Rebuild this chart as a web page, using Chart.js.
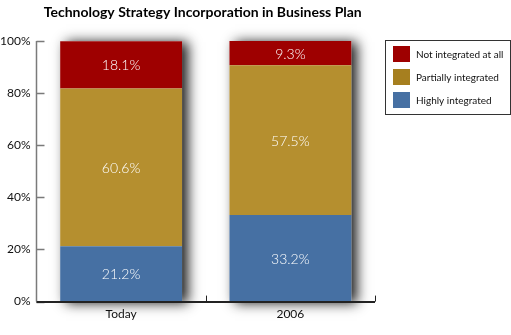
<!DOCTYPE html>
<html>
<head>
<meta charset="utf-8">
<script src="https://cdn.jsdelivr.net/npm/chart.js@4/dist/chart.umd.min.js"></script>
<style>
  html, body { margin: 0; padding: 0; background: #fff; }
  #wrap { width: 511px; height: 335px; position: relative; }
</style>
</head>
<body>
<div id="wrap"><canvas id="plan-chart"></canvas></div>
<script>
var categories = ['Today', '2006'];
var highlyIntegrated = [21.2, 33.2];
var partiallyIntegrated = [60.6, 57.5];
var notIntegrated = [18.1, 9.3];
var yTicks = [0, 20, 40, 60, 80, 100];
var chartTitle = 'Technology Strategy Incorporation in Business Plan';

var FONT = 'Lato, "Open Sans", sans-serif';

// shadow behind each full stack, then bars on top
var stackShadow = {
    id: 'stackShadow',
    beforeDatasetsDraw: function (chart) {
        var ctx = chart.ctx;
        var first = chart.getDatasetMeta(0);
        var last = chart.getDatasetMeta(chart.data.datasets.length - 1);
        ctx.save();
        ctx.shadowColor = 'rgba(0,0,0,0.9)';
        ctx.shadowBlur = 12;
        ctx.shadowOffsetX = 6;
        ctx.shadowOffsetY = 1;
        ctx.fillStyle = '#fff';
        first.data.forEach(function (bar, i) {
            var top = last.data[i];
            ctx.fillRect(bar.x - bar.width / 2, top.y, bar.width, bar.base - top.y);
        });
        ctx.restore();
    }
};

// axis lines, inward tick marks, value labels, title and legend box
var decor = {
    id: 'decor',
    afterDatasetsDraw: function (chart) {
        var ctx = chart.ctx;
        var area = chart.chartArea;
        var y = chart.scales.y;
        var x = chart.scales.x;
        ctx.save();

        // value labels
        ctx.fillStyle = '#fff';
        ctx.font = '300 14px ' + FONT;
        ctx.textAlign = 'center';
        ctx.textBaseline = 'middle';
        chart.data.datasets.forEach(function (ds, d) {
            chart.getDatasetMeta(d).data.forEach(function (bar, i) {
                ctx.fillText(ds.data[i].toFixed(1) + '%', bar.x, (bar.y + bar.base) / 2 + 1);
            });
        });

        // y axis
        ctx.strokeStyle = '#7a7a7a';
        ctx.lineWidth = 1.5;
        ctx.beginPath();
        ctx.moveTo(area.left, y.getPixelForValue(100));
        ctx.lineTo(area.left, area.bottom);
        yTicks.forEach(function (v) {
            var py = Math.round(y.getPixelForValue(v)) + 0.5;
            ctx.moveTo(area.left, py);
            ctx.lineTo(area.left + 8, py);
        });
        ctx.stroke();

        // x axis
        ctx.strokeStyle = '#222';
        ctx.lineWidth = 2;
        ctx.beginPath();
        ctx.moveTo(area.left, area.bottom + 0.5);
        ctx.lineTo(area.right, area.bottom + 0.5);
        ctx.stroke();
        var step = x.getPixelForValue(1) - x.getPixelForValue(0);
        ctx.lineWidth = 1;
        ctx.beginPath();
        categories.forEach(function (c, i) {
            var px = Math.round(x.getPixelForValue(i) + step / 2) + 0.5;
            ctx.moveTo(px, area.bottom);
            ctx.lineTo(px, area.bottom - 6);
        });
        ctx.stroke();

        // title
        ctx.fillStyle = '#000';
        ctx.font = 'bold 14px ' + FONT;
        ctx.textAlign = 'center';
        ctx.fillText(chartTitle, (area.left + area.right) / 2 - 3, 12);

        // legend box
        var lx = area.right + 10, ly = area.top - 1, lw = 125, lh = 74;
        ctx.strokeStyle = '#333';
        ctx.lineWidth = 1;
        ctx.strokeRect(lx + 0.5, ly + 0.5, lw, lh);
        ctx.font = '10px ' + FONT;
        ctx.textAlign = 'left';
        var items = chart.data.datasets.slice().reverse();
        items.forEach(function (ds, k) {
            var sy = ly + 6 + k * 23;
            ctx.fillStyle = ds.legendColor;
            ctx.fillRect(lx + 8, sy, 17, 16);
            ctx.fillStyle = '#111';
            ctx.fillText(ds.label, lx + 31, sy + 8.5);
        });
        ctx.restore();
    }
};

new Chart(document.getElementById('plan-chart'), {
    type: 'bar',
    data: {
        labels: categories,
        datasets: [
            { label: 'Highly integrated', data: highlyIntegrated, backgroundColor: '#4670A3', legendColor: '#4670A3' },
            { label: 'Partially integrated', data: partiallyIntegrated, backgroundColor: '#B58F2F', legendColor: '#A67F1F' },
            { label: 'Not integrated at all', data: notIntegrated, backgroundColor: '#9E0000', legendColor: '#9E0000' }
        ]
    },
    options: {
        responsive: true,
        maintainAspectRatio: false,
        animation: false,
        layout: { padding: { top: 41, right: 136, bottom: 9, left: -6 } },
        plugins: {
            legend: { display: false },
            title: { display: false },
            tooltip: { enabled: false }
        },
        datasets: {
            bar: { categoryPercentage: 1, barPercentage: 0.72 }
        },
        scales: {
            x: {
                stacked: true,
                grid: { display: false, drawTicks: false },
                border: { display: false },
                ticks: { color: '#111', font: { family: FONT, size: 12 }, padding: 5 }
            },
            y: {
                stacked: true,
                min: 0,
                max: 100,
                afterBuildTicks: function (scale) {
                    scale.ticks = yTicks.map(function (v) { return { value: v }; });
                },
                grid: { display: false, drawTicks: false },
                border: { display: false },
                ticks: {
                    color: '#111',
                    font: { family: FONT, size: 12 },
                    padding: 6,
                    callback: function (v) { return v + '%'; }
                }
            }
        }
    },
    plugins: [stackShadow, decor]
});
</script>
</body>
</html>
